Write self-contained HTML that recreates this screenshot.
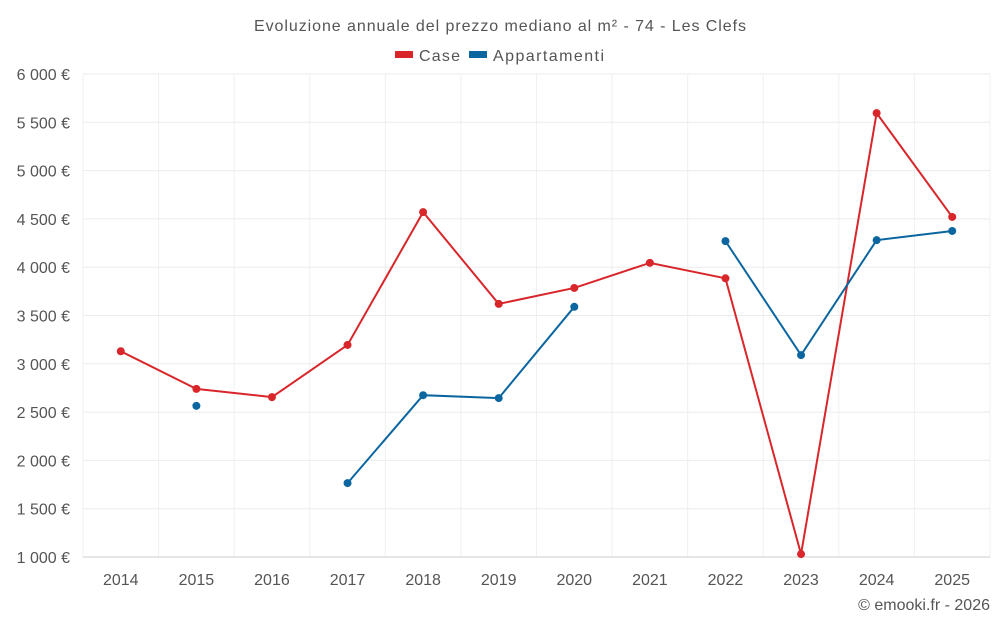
<!DOCTYPE html>
<html><head><meta charset="utf-8">
<style>
html,body{margin:0;padding:0;background:#fff;}
svg{display:block;font-family:"Liberation Sans",sans-serif;}
</style></head>
<body>
<svg id="chart" width="1000" height="625" viewBox="0 0 1000 625">
<text x="500" y="31" text-anchor="middle" font-size="16" fill="#555" textLength="492" lengthAdjust="spacing">Evoluzione annuale del prezzo mediano al m² - 74 - Les Clefs</text>
<g>
<g><rect x="395" y="51" width="18" height="7" fill="#d9262b"/><text x="419" y="61" font-size="16" fill="#555" textLength="41" lengthAdjust="spacing">Case</text></g>
<g><rect x="469" y="51" width="18" height="7" fill="#0b66a0"/><text x="493" y="61" font-size="16" fill="#555" textLength="111" lengthAdjust="spacing">Appartamenti</text></g>
</g>
<g id="grid"></g>
<g id="axes"></g>
<g id="series"></g>
<text x="990" y="610" text-anchor="end" font-size="16" fill="#555">© emooki.fr - 2026</text>
</svg>
<script>
const years = [2014,2015,2016,2017,2018,2019,2020,2021,2022,2023,2024,2025];
const caseValues = [3130,2740,2655,3195,4570,3620,3785,4045,3885,1030,5595,4520];
const apptValues = [null,2565,null,1765,2675,2645,3590,null,4270,3090,4280,4375];
const yTicks = [1000,1500,2000,2500,3000,3500,4000,4500,5000,5500,6000];
const yTickLabels = ["1 000 €","1 500 €","2 000 €","2 500 €","3 000 €","3 500 €","4 000 €","4 500 €","5 000 €","5 500 €","6 000 €"];

const L=83,R=990,T=74,B=557,yMin=1000,yMax=6000;
const step=(R-L)/years.length;
const xPos=i=>L+step*(i+0.5);
const yPos=v=>B-(v-yMin)/(yMax-yMin)*(B-T);
const NS="http://www.w3.org/2000/svg";
function mk(tag,attrs,parent){const e=document.createElementNS(NS,tag);for(const k in attrs)e.setAttribute(k,attrs[k]);parent.appendChild(e);return e;}
const grid=document.getElementById('grid'),axes=document.getElementById('axes'),series=document.getElementById('series');

for(let i=0;i<=years.length;i++){
  const x=L+step*i;
  const ln=mk('line',{x1:x,x2:x,y1:T,y2:B,stroke:'#f0f0f0','stroke-width':1},grid);
  
  
}
yTicks.forEach((t,i)=>{
  const y=yPos(t);
  const ln=mk('line',{x1:L,x2:R,y1:y,y2:y,stroke:i===0?'#ccc':'#ebebeb','stroke-width':1},grid);
  
  
  const tx=mk('text',{x:70,y:y+6,'text-anchor':'end','font-size':16,fill:'#555'},axes);
  tx.textContent=yTickLabels[i];
  
  
});
years.forEach((yr,i)=>{
  const tx=mk('text',{x:xPos(i),y:585,'text-anchor':'middle','font-size':16,fill:'#555'},axes);
  tx.textContent=yr;
  
  
});

function drawSeries(vals,color,name){
  let seg=[];
  const segs=[];
  vals.forEach((v,i)=>{if(v==null){if(seg.length)segs.push(seg);seg=[];}else seg.push([xPos(i),yPos(v)]);});
  if(seg.length)segs.push(seg);
  segs.forEach(s=>{
    if(s.length>1){
      const p=mk('polyline',{points:s.map(q=>q.join(',')).join(' '),fill:'none',stroke:color,'stroke-width':2},series);
      
      
    }
  });
  vals.forEach((v,i)=>{
    if(v==null)return;
    const c=mk('circle',{cx:xPos(i),cy:yPos(v),r:4,fill:color},series);
    
    
  });
}
drawSeries(caseValues,'#d9262b','case');
drawSeries(apptValues,'#0b66a0','appartamenti');
</script>
</body></html>
